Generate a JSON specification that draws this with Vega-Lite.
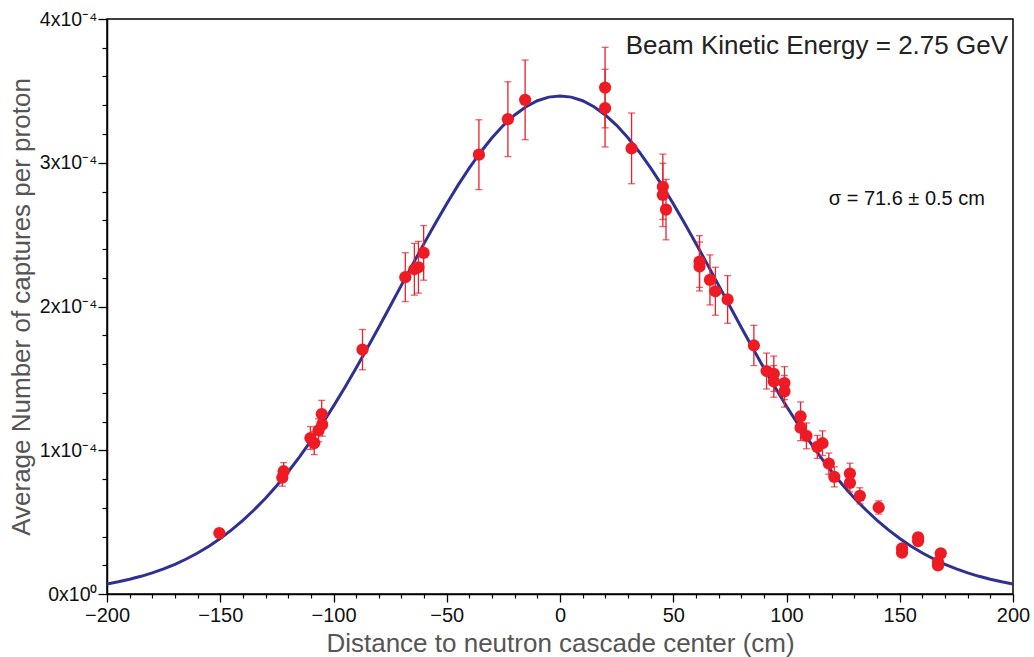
{
  "$schema": "https://vega.github.io/schema/vega-lite/v6.json",
  "width": 906,
  "height": 575,
  "autosize": "none",
  "padding": {"left": 107, "top": 19, "right": 21, "bottom": 63},
  "background": "white",
  "config": {"view": {"stroke": "black", "strokeWidth": 1.5}, "font": "Liberation Sans"},
  "datasets": {
    "fit": [
      {"x": -200, "y": 0.0701e-4}, {"x": -195, "y": 0.0849e-4}, {"x": -190, "y": 0.1025e-4}, {"x": -185, "y": 0.1230e-4},
      {"x": -180, "y": 0.1470e-4}, {"x": -175, "y": 0.1748e-4}, {"x": -170, "y": 0.2068e-4}, {"x": -165, "y": 0.2435e-4},
      {"x": -160, "y": 0.2853e-4}, {"x": -155, "y": 0.3327e-4}, {"x": -150, "y": 0.3861e-4}, {"x": -145, "y": 0.4458e-4},
      {"x": -140, "y": 0.5123e-4}, {"x": -135, "y": 0.5858e-4}, {"x": -130, "y": 0.6666e-4}, {"x": -125, "y": 0.7549e-4},
      {"x": -120, "y": 0.8507e-4}, {"x": -115, "y": 0.9540e-4}, {"x": -110, "y": 1.0646e-4}, {"x": -105, "y": 1.1823e-4},
      {"x": -100, "y": 1.3066e-4}, {"x": -95, "y": 1.4370e-4}, {"x": -90, "y": 1.5726e-4}, {"x": -85, "y": 1.7127e-4},
      {"x": -80, "y": 1.8562e-4}, {"x": -75, "y": 2.0019e-4}, {"x": -70, "y": 2.1486e-4}, {"x": -65, "y": 2.2948e-4},
      {"x": -60, "y": 2.4390e-4}, {"x": -55, "y": 2.5797e-4}, {"x": -50, "y": 2.7153e-4}, {"x": -45, "y": 2.8440e-4},
      {"x": -40, "y": 2.9644e-4}, {"x": -35, "y": 3.0748e-4}, {"x": -30, "y": 3.1738e-4}, {"x": -25, "y": 3.2601e-4},
      {"x": -20, "y": 3.3324e-4}, {"x": -15, "y": 3.3898e-4}, {"x": -10, "y": 3.4314e-4}, {"x": -5, "y": 3.4566e-4},
      {"x": 0, "y": 3.4650e-4},
      {"x": 5, "y": 3.4566e-4}, {"x": 10, "y": 3.4314e-4}, {"x": 15, "y": 3.3898e-4}, {"x": 20, "y": 3.3324e-4},
      {"x": 25, "y": 3.2601e-4}, {"x": 30, "y": 3.1738e-4}, {"x": 35, "y": 3.0748e-4}, {"x": 40, "y": 2.9644e-4},
      {"x": 45, "y": 2.8440e-4}, {"x": 50, "y": 2.7153e-4}, {"x": 55, "y": 2.5797e-4}, {"x": 60, "y": 2.4390e-4},
      {"x": 65, "y": 2.2948e-4}, {"x": 70, "y": 2.1486e-4}, {"x": 75, "y": 2.0019e-4}, {"x": 80, "y": 1.8562e-4},
      {"x": 85, "y": 1.7127e-4}, {"x": 90, "y": 1.5726e-4}, {"x": 95, "y": 1.4370e-4}, {"x": 100, "y": 1.3066e-4},
      {"x": 105, "y": 1.1823e-4}, {"x": 110, "y": 1.0646e-4}, {"x": 115, "y": 0.9540e-4}, {"x": 120, "y": 0.8507e-4},
      {"x": 125, "y": 0.7549e-4}, {"x": 130, "y": 0.6666e-4}, {"x": 135, "y": 0.5858e-4}, {"x": 140, "y": 0.5123e-4},
      {"x": 145, "y": 0.4458e-4}, {"x": 150, "y": 0.3861e-4}, {"x": 155, "y": 0.3327e-4}, {"x": 160, "y": 0.2853e-4},
      {"x": 165, "y": 0.2435e-4}, {"x": 170, "y": 0.2068e-4}, {"x": 175, "y": 0.1748e-4}, {"x": 180, "y": 0.1470e-4},
      {"x": 185, "y": 0.1230e-4}, {"x": 190, "y": 0.1025e-4}, {"x": 195, "y": 0.0849e-4}, {"x": 200, "y": 0.0701e-4}
    ],
    "meas": [
      {"x": -150.4, "y": 0.424e-4, "err": 0.03e-4},
      {"x": -122.6, "y": 0.810e-4, "err": 0.06e-4},
      {"x": -122.0, "y": 0.854e-4, "err": 0.06e-4},
      {"x": -110.2, "y": 1.085e-4, "err": 0.08e-4},
      {"x": -108.5, "y": 1.050e-4, "err": 0.08e-4},
      {"x": -106.6, "y": 1.139e-4, "err": 0.08e-4},
      {"x": -105.0, "y": 1.178e-4, "err": 0.08e-4},
      {"x": -105.2, "y": 1.252e-4, "err": 0.095e-4},
      {"x": -87.2, "y": 1.700e-4, "err": 0.14e-4},
      {"x": -68.3, "y": 2.204e-4, "err": 0.17e-4},
      {"x": -64.3, "y": 2.259e-4, "err": 0.18e-4},
      {"x": -62.5, "y": 2.273e-4, "err": 0.18e-4},
      {"x": -60.2, "y": 2.373e-4, "err": 0.19e-4},
      {"x": -35.8, "y": 3.056e-4, "err": 0.243e-4},
      {"x": -23.0, "y": 3.303e-4, "err": 0.26e-4},
      {"x": -15.4, "y": 3.4375e-4, "err": 0.277e-4},
      {"x": 19.9, "y": 3.523e-4, "err": 0.28e-4},
      {"x": 19.9, "y": 3.380e-4, "err": 0.27e-4},
      {"x": 31.6, "y": 3.100e-4, "err": 0.246e-4},
      {"x": 45.4, "y": 2.833e-4, "err": 0.227e-4},
      {"x": 45.4, "y": 2.776e-4, "err": 0.22e-4},
      {"x": 46.8, "y": 2.674e-4, "err": 0.21e-4},
      {"x": 61.6, "y": 2.313e-4, "err": 0.18e-4},
      {"x": 61.6, "y": 2.278e-4, "err": 0.17e-4},
      {"x": 66.2, "y": 2.185e-4, "err": 0.174e-4},
      {"x": 68.6, "y": 2.106e-4, "err": 0.167e-4},
      {"x": 74.0, "y": 2.049e-4, "err": 0.166e-4},
      {"x": 85.6, "y": 1.729e-4, "err": 0.14e-4},
      {"x": 91.2, "y": 1.551e-4, "err": 0.125e-4},
      {"x": 94.4, "y": 1.532e-4, "err": 0.123e-4},
      {"x": 94.4, "y": 1.479e-4, "err": 0.11e-4},
      {"x": 99.1, "y": 1.467e-4, "err": 0.115e-4},
      {"x": 99.1, "y": 1.410e-4, "err": 0.11e-4},
      {"x": 106.2, "y": 1.236e-4, "err": 0.10e-4},
      {"x": 106.2, "y": 1.157e-4, "err": 0.09e-4},
      {"x": 108.8, "y": 1.100e-4, "err": 0.09e-4},
      {"x": 113.6, "y": 1.023e-4, "err": 0.08e-4},
      {"x": 115.9, "y": 1.049e-4, "err": 0.086e-4},
      {"x": 118.7, "y": 0.907e-4, "err": 0.074e-4},
      {"x": 121.1, "y": 0.815e-4, "err": 0.07e-4},
      {"x": 128.0, "y": 0.838e-4, "err": 0.072e-4},
      {"x": 128.0, "y": 0.773e-4, "err": 0.063e-4},
      {"x": 132.4, "y": 0.683e-4, "err": 0.056e-4},
      {"x": 140.7, "y": 0.602e-4, "err": 0.046e-4},
      {"x": 151.0, "y": 0.317e-4, "err": 0.025e-4},
      {"x": 151.0, "y": 0.287e-4, "err": 0.023e-4},
      {"x": 158.1, "y": 0.394e-4, "err": 0.03e-4},
      {"x": 158.1, "y": 0.368e-4, "err": 0.03e-4},
      {"x": 168.1, "y": 0.283e-4, "err": 0.022e-4},
      {"x": 166.9, "y": 0.224e-4, "err": 0.018e-4},
      {"x": 166.9, "y": 0.199e-4, "err": 0.016e-4}
    ],
    "notes": [
      {"x": 197.8, "y": 3.8125e-4, "label": "Beam Kinetic Energy = 2.75 GeV"}
    ],
    "sigma": [
      {"x": 187.6, "y": 2.75e-4, "label": "σ = 71.6 ± 0.5 cm"}
    ]
  },
  "layer": [
    {
      "data": {"name": "fit"},
      "mark": {"type": "line", "color": "#2e3192", "strokeWidth": 3, "clip": true},
      "encoding": {
        "x": {
          "field": "x", "type": "quantitative",
          "scale": {"domain": [-200, 200], "nice": false, "zero": false},
          "axis": {
            "orient": "bottom",
            "values": [-200, -150, -100, -50, 0, 50, 100, 150, 200],
            "grid": false, "tickSize": 8, "tickColor": "black", "tickWidth": 1.3,
            "domainColor": "black", "domainWidth": 1.5,
            "labelFontSize": 20, "labelColor": "#111", "labelPadding": 3, "labelFlush": false,
            "title": "Distance to neutron cascade center (cm)",
            "titleFontSize": 26, "titleFontWeight": "normal", "titleColor": "#555",
            "titleBaseline": "alphabetic", "titleY": 57, "titleX": 453, "titleAnchor": "middle"
          }
        },
        "y": {
          "field": "y", "type": "quantitative",
          "scale": {"domain": [0, 0.0004], "nice": false},
          "axis": {
            "orient": "left",
            "values": [0, 1e-4, 2e-4, 3e-4, 4e-4],
            "labelExpr": "datum.value < 1e-6 ? '0x10⁰' : format(round(datum.value*1e4),'d') + 'x10⁻⁴'",
            "grid": false, "tickSize": 9, "tickColor": "black", "tickWidth": 1.3,
            "domainColor": "black", "domainWidth": 1.5,
            "labelFontSize": 19.5, "labelColor": "#111", "labelPadding": 1, "labelFlush": false,
            "title": "Average Number of captures per proton",
            "titleFontSize": 26, "titleFontWeight": "normal", "titleColor": "#555",
            "titleAngle": -90, "titleBaseline": "bottom", "titleX": -73, "titleY": 287.5, "titleAlign": "center"
          }
        }
      }
    },
    {
      "data": {"name": "meas"},
      "mark": {"type": "errorbar", "color": "#e8202a", "ticks": {"size": 7, "thickness": 1.3, "color": "#e8202a"}, "rule": {"strokeWidth": 1.3, "color": "#e8202a"}},
      "encoding": {
        "x": {
          "field": "x", "type": "quantitative",
          "axis": {
            "orient": "bottom",
            "values": [-190, -180, -170, -160, -140, -130, -120, -110, -90, -80, -70, -60, -40, -30, -20, -10, 10, 20, 30, 40, 60, 70, 80, 90, 110, 120, 130, 140, 160, 170, 180, 190],
            "labels": false, "domain": false, "grid": false, "tickSize": 4, "tickColor": "black", "tickWidth": 1.2, "title": null
          }
        },
        "y": {
          "field": "y", "type": "quantitative",
          "axis": {
            "orient": "left",
            "values": [0.2e-4, 0.4e-4, 0.6e-4, 0.8e-4, 1.2e-4, 1.4e-4, 1.6e-4, 1.8e-4, 2.2e-4, 2.4e-4, 2.6e-4, 2.8e-4, 3.2e-4, 3.4e-4, 3.6e-4, 3.8e-4],
            "labels": false, "domain": false, "grid": false, "tickSize": 5, "tickColor": "black", "tickWidth": 1.2, "title": null
          }
        },
        "yError": {"field": "err"}
      }
    },
    {
      "data": {"name": "meas"},
      "mark": {"type": "circle", "color": "#ed1c24", "opacity": 1, "size": 150},
      "encoding": {
        "x": {"field": "x", "type": "quantitative", "axis": null},
        "y": {"field": "y", "type": "quantitative", "axis": null}
      }
    },
    {
      "data": {"name": "notes"},
      "mark": {"type": "text", "align": "right", "baseline": "middle", "fontSize": 26, "color": "#222", "font": "Liberation Sans"},
      "encoding": {
        "x": {"field": "x", "type": "quantitative", "axis": null},
        "y": {"field": "y", "type": "quantitative", "axis": null},
        "text": {"field": "label"}
      }
    },
    {
      "data": {"name": "sigma"},
      "mark": {"type": "text", "align": "right", "baseline": "middle", "fontSize": 20, "color": "#111", "font": "Liberation Sans"},
      "encoding": {
        "x": {"field": "x", "type": "quantitative", "axis": null},
        "y": {"field": "y", "type": "quantitative", "axis": null},
        "text": {"field": "label"}
      }
    }
  ],
  "resolve": {"axis": {"x": "independent", "y": "independent"}}
}
